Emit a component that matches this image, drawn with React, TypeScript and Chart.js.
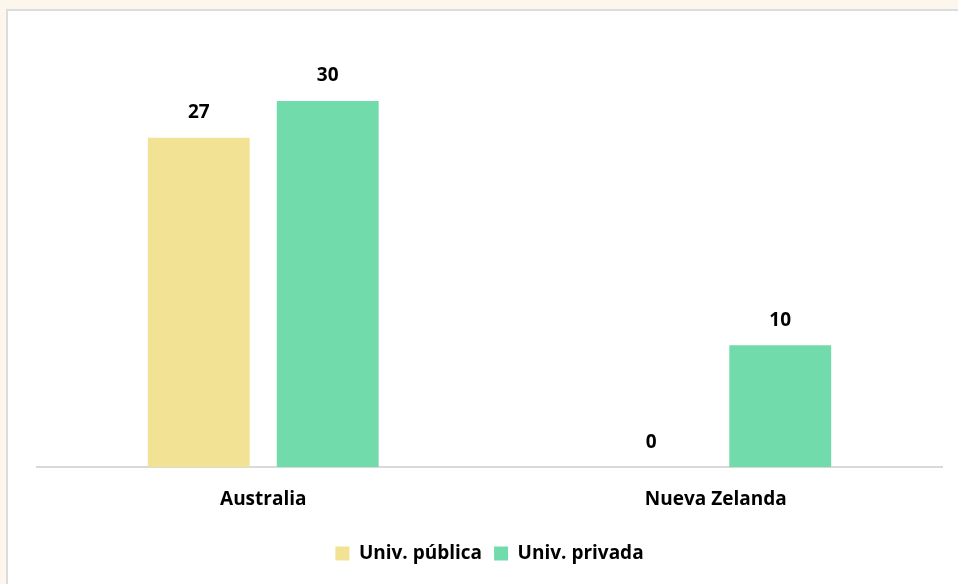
import React, { useEffect, useRef } from "react";
import { Chart, registerables } from "chart.js";

Chart.register(...registerables);

const categories = ["Australia", "Nueva Zelanda"];
const seriesNames = ["Univ. pública", "Univ. privada"];
const publicaValues = [27, 0];
const privadaValues = [30, 10];

const FONT = "'Open Sans', sans-serif";

const valueLabels = {
  id: "valueLabels",
  afterDatasetsDraw(chart: any) {
    const ctx = chart.ctx;
    ctx.save();
    ctx.font = `bold 19px ${FONT}`;
    ctx.fillStyle = "#000000";
    ctx.textAlign = "center";
    ctx.textBaseline = "middle";
    chart.data.datasets.forEach((ds: any, di: number) => {
      const meta = chart.getDatasetMeta(di);
      meta.data.forEach((bar: any, i: number) => {
        ctx.fillText(String(ds.data[i]), bar.x, bar.y - 25);
      });
    });
    ctx.restore();
  },
};

export default function App() {
  const ref = useRef<HTMLCanvasElement>(null);
  useEffect(() => {
    if (!ref.current) return;
    const chart = new Chart(ref.current, {
      type: "bar",
      data: {
        labels: categories,
        datasets: [
          {
            label: seriesNames[0],
            data: publicaValues,
            backgroundColor: "#f2e394",
            categoryPercentage: 0.57,
            barPercentage: 0.79,
          },
          {
            label: seriesNames[1],
            data: privadaValues,
            backgroundColor: "#72dbab",
            categoryPercentage: 0.57,
            barPercentage: 0.79,
          },
        ],
      },
      options: {
        animation: false,
        responsive: false,
        maintainAspectRatio: false,
        layout: { padding: { left: 37, right: 16, top: 40, bottom: 11 } },
        scales: {
          x: {
            grid: { display: false, drawTicks: false },
            border: { display: true, color: "#d9d9d9", width: 2 },
            ticks: {
              color: "#000000",
              font: { family: FONT, size: 19, weight: "bold" },
              padding: 21,
            },
          },
          y: {
            display: false,
            min: 0,
            max: 35,
          },
        },
        plugins: {
          legend: {
            position: "bottom",
            labels: {
              color: "#000000",
              font: { family: FONT, size: 19, weight: "bold" },
              boxWidth: 14,
              boxHeight: 14,
              padding: 12,
            },
          },
          tooltip: { enabled: false },
        },
      },
      plugins: [valueLabels],
    });
    return () => chart.destroy();
  }, []);

  return (
    <div
      style={{
        position: "fixed",
        left: 0,
        top: 0,
        width: 958,
        height: 584,
        background: "#fdf6ec",
        overflow: "hidden",
      }}
    >
      <div
        style={{
          position: "absolute",
          left: 6,
          top: 9,
          width: 1000,
          height: 700,
          background: "#ffffff",
          border: "2px solid #dcdcdc",
        }}
      />
      <canvas
        ref={ref}
        width={958}
        height={584}
        style={{ position: "absolute", left: 0, top: 0, width: 958, height: 584 }}
      />
    </div>
  );
}
